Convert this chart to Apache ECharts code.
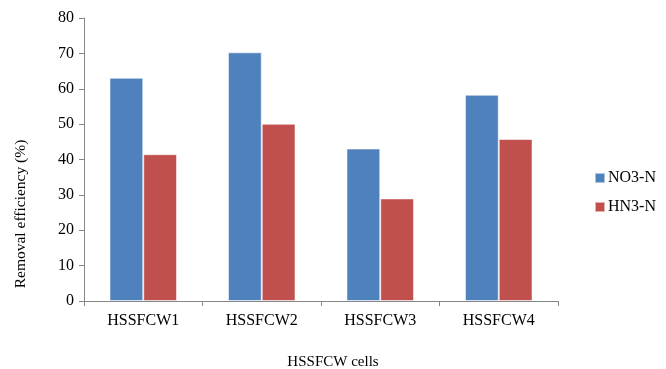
<!DOCTYPE html>
<html>
<head>
<meta charset="utf-8">
<script src="https://cdn.jsdelivr.net/npm/echarts@6/dist/echarts.min.js"></script>
<style>
  html, body { margin: 0; padding: 0; background: #fff; }
  #chart { width: 666px; height: 369px; }
</style>
</head>
<body>
<div id="chart"></div>
<script>
// Removal efficiency per HSSFCW cell
const categories = ['HSSFCW1', 'HSSFCW2', 'HSSFCW3', 'HSSFCW4'];
const no3Values = [63.1, 70.3, 43.1, 58.3];
const hn3Values = [41.5, 50.1, 29.0, 45.8];
const seriesNames = ['NO3-N', 'HN3-N'];
const yTicks = { min: 0, max: 80, interval: 10 };
const xTitle = 'HSSFCW cells';
const yTitle = 'Removal efficiency (%)';

const font = '"Liberation Serif", "Times New Roman", serif';
const axisGray = '#868686';

const chart = echarts.init(document.getElementById('chart'), null, { renderer: 'canvas' });
chart.setOption({
  animation: false,
  backgroundColor: '#fff',
  textStyle: { fontFamily: font, color: '#000' },
  grid: { left: 84, right: 108, top: 18, bottom: 68 },
  legend: {
    orient: 'vertical',
    left: 594,
    top: 170,
    padding: 0,
    itemWidth: 10,
    itemHeight: 10,
    itemGap: 13,
    icon: 'rect',
    textStyle: { fontFamily: font, fontSize: 16, color: '#000', padding: [0, 0, 0, -2] },
    data: seriesNames
  },
  graphic: [
    {
      type: 'text',
      left: 'center',
      top: 355,
      x: 11,
      style: { text: xTitle, font: '15px ' + font, fill: '#000' }
    },
    {
      type: 'text',
      x: 21,
      y: 214,
      rotation: Math.PI / 2,
      style: { text: yTitle, font: '15.5px ' + font, fill: '#000', align: 'center', verticalAlign: 'middle' },
      originX: 0, originY: 0
    }
  ],
  xAxis: {
    type: 'category',
    data: categories,
    axisLine: { lineStyle: { color: axisGray, width: 1 } },
    axisTick: { show: true, alignWithLabel: false, length: 5, lineStyle: { color: axisGray } },
    axisLabel: { fontFamily: font, fontSize: 16, color: '#000', margin: 12 },
    splitLine: { show: false }
  },
  yAxis: {
    type: 'value',
    min: yTicks.min,
    max: yTicks.max,
    interval: yTicks.interval,
    axisLine: { show: true, lineStyle: { color: axisGray, width: 1 } },
    axisTick: { show: true, length: 5, lineStyle: { color: axisGray } },
    axisLabel: { fontFamily: font, fontSize: 16, color: '#000', margin: 10 },
    splitLine: { show: false }
  },
  series: [
    {
      name: seriesNames[0],
      type: 'bar',
      data: no3Values,
      barGap: '0%',
      barCategoryGap: '43%',
      itemStyle: { color: '#4F81BD', borderColor: 'rgba(255,255,255,0.55)', borderWidth: 1 }
    },
    {
      name: seriesNames[1],
      type: 'bar',
      data: hn3Values,
      barGap: '0%',
      barCategoryGap: '43%',
      itemStyle: { color: '#C0504D', borderColor: 'rgba(255,255,255,0.55)', borderWidth: 1 }
    }
  ]
});
</script>
</body>
</html>
